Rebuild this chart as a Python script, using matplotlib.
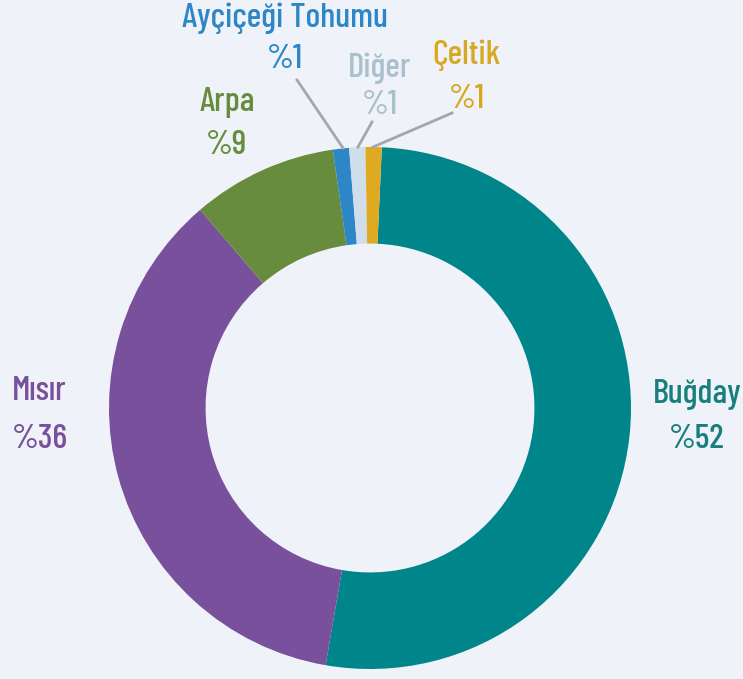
import numpy as np
import matplotlib.pyplot as plt

labels = ['Buğday', 'Mısır', 'Arpa', 'Ayçiçeği Tohumu', 'Diğer', 'Çeltik']
shares = [52, 36, 9, 1, 1, 1]
share_text = ['%52', '%36', '%9', '%1', '%1', '%1']
colors = ['#00868a', '#78509b', '#678c3d', '#2d86c6', '#cfdeea', '#dfaa22']
text_colors = ['#17807f', '#78509b', '#678c3d', '#2d86c6', '#a9c0cc', '#d8a823']

family = ['Barlow Condensed', 'DejaVu Sans']

W, H = 743, 679
bg = '#eff3f9'
fig = plt.figure(figsize=(W / 100, H / 100), dpi=100, facecolor=bg)
ax = fig.add_axes([0, 0, 1, 1])
ax.set_facecolor(bg)

cx, cy, r = 370, H - 408, 261
ax.pie(shares, colors=colors, startangle=87.4, counterclock=False,
       center=(cx, cy), radius=r, frame=True,
       wedgeprops=dict(width=r * 0.37, linewidth=0))
ax.set_xlim(0, W)
ax.set_ylim(0, H)
ax.set_aspect('equal')
ax.axis('off')

# leader lines for the small slices (pixel coords)
leaders = [((343, 148), (297, 80)), ((358, 147), (372, 122)), ((373, 147), (452, 113))]
for (x0, y0), (x1, y1) in leaders:
    ax.plot([x0, x1], [H - y0, H - y1], color='#a3a6ab', lw=2)

# label layout: (x, y name, y value, ha)
pos = {
    'Buğday': (697, 395, 440, 'center'),
    'Mısır': (12, 392, 440, 'left'),
    'Arpa': (227, 103, 145, 'center'),
    'Ayçiçeği Tohumu': (285, 18, 60, 'center'),
    'Diğer': (380, 68, 105, 'center'),
    'Çeltik': (467, 55, 100, 'center'),
}
for i, lab in enumerate(labels):
    x, yn, yv, ha = pos[lab]
    ax.text(x, H - yn, lab, ha=ha, va='center', fontsize=25, color=text_colors[i],
            family=family, fontweight='medium')
    ax.text(x, H - yv, share_text[i], ha=ha, va='center', fontsize=25, color=text_colors[i],
            family=family, fontweight='medium')

fig.savefig('out.png', dpi=100, facecolor=bg)
